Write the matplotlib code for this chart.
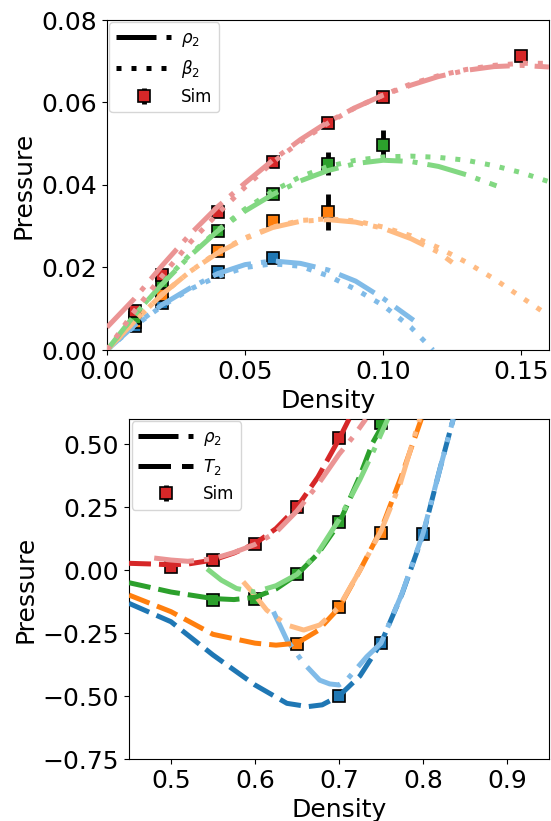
import numpy as np
import matplotlib
matplotlib.use("Agg")
import matplotlib.pyplot as plt
from matplotlib.lines import Line2D

# цвета симуляций и светлые цвета теоретических кривых
dark = ['tab:blue', 'tab:orange', 'tab:green', 'tab:red']
light = ['#80bbe8', '#ffbb82', '#82d882', '#eb9494']

# ---------- верхний график: низкая плотность ----------
sim_x_low = [
    [0.01, 0.02, 0.04, 0.06],
    [0.01, 0.02, 0.04, 0.06, 0.08],
    [0.01, 0.02, 0.04, 0.06, 0.08, 0.10],
    [0.01, 0.02, 0.04, 0.06, 0.08, 0.10, 0.15],
]
sim_p_low = [
    [0.0059, 0.0113, 0.0189, 0.0222],
    [0.0069, 0.0133, 0.0239, 0.0313, 0.0335],
    [0.0078, 0.0165, 0.0288, 0.0379, 0.0452, 0.0498],
    [0.0095, 0.0183, 0.0335, 0.0456, 0.0550, 0.0614, 0.0713],
]
sim_err_low = [
    [0.0003, 0.0004, 0.0005, 0.0006],
    [0.0003, 0.0004, 0.0006, 0.0013, 0.0043],
    [0.0003, 0.0004, 0.0006, 0.0008, 0.0027, 0.0036],
    [0.0003, 0.0004, 0.0005, 0.0006, 0.0006, 0.0007, 0.0008],
]

rho_x_low = [
    [0, 0.01, 0.02, 0.03, 0.04, 0.05, 0.06, 0.07, 0.08, 0.09, 0.10, 0.111],
    [0, 0.01, 0.02, 0.03, 0.04, 0.05, 0.06, 0.07, 0.08, 0.09, 0.10, 0.11, 0.12, 0.125],
    [0, 0.01, 0.02, 0.03, 0.04, 0.05, 0.06, 0.07, 0.08, 0.09, 0.10, 0.11, 0.12, 0.13, 0.141],
    [0, 0.01, 0.02, 0.03, 0.04, 0.05, 0.06, 0.07, 0.08, 0.09, 0.10, 0.11, 0.12, 0.13, 0.14, 0.15, 0.16],
]
rho_p_low = [
    [0, 0.006, 0.011, 0.015, 0.0185, 0.0207, 0.0216, 0.021, 0.0194, 0.0167, 0.0125, 0.0072],
    [0, 0.007, 0.0135, 0.019, 0.0235, 0.027, 0.0297, 0.0312, 0.0316, 0.031, 0.0295, 0.027, 0.0237, 0.0212],
    [0, 0.0085, 0.016, 0.0228, 0.0288, 0.0337, 0.0377, 0.041, 0.0435, 0.0452, 0.046, 0.0457, 0.0445, 0.0425, 0.0398],
    [0.0055, 0.0125, 0.0205, 0.028, 0.0347, 0.0405, 0.046, 0.051, 0.0553, 0.0588, 0.0618, 0.0642, 0.0663, 0.0678, 0.0687, 0.069, 0.0686],
]

beta_x_low = [
    [0, 0.01, 0.02, 0.03, 0.04, 0.05, 0.06, 0.07, 0.08, 0.09, 0.10, 0.11, 0.118],
    [0, 0.01, 0.02, 0.03, 0.04, 0.05, 0.06, 0.07, 0.08, 0.09, 0.10, 0.11, 0.12, 0.13, 0.14, 0.15, 0.16],
    [0, 0.01, 0.02, 0.03, 0.04, 0.05, 0.06, 0.07, 0.08, 0.09, 0.10, 0.11, 0.12, 0.13, 0.14, 0.15, 0.16],
    [0, 0.01, 0.02, 0.03, 0.04, 0.05, 0.06, 0.07, 0.08, 0.09, 0.10, 0.11, 0.12, 0.13, 0.14, 0.15, 0.16],
]
beta_p_low = [
    [0, 0.0058, 0.0107, 0.0147, 0.0178, 0.0200, 0.0209, 0.0203, 0.0180, 0.0147, 0.0108, 0.0055, 0.0],
    [0, 0.007, 0.0135, 0.019, 0.0237, 0.0272, 0.0298, 0.0314, 0.0318, 0.0313, 0.0298, 0.0277, 0.0248, 0.0213, 0.0173, 0.0128, 0.0083],
    [0, 0.0085, 0.0162, 0.0231, 0.029, 0.0342, 0.0385, 0.042, 0.0445, 0.046, 0.0468, 0.047, 0.0467, 0.046, 0.0447, 0.043, 0.0408],
    [0, 0.0095, 0.018, 0.026, 0.033, 0.0395, 0.0455, 0.0505, 0.055, 0.0588, 0.0618, 0.0645, 0.0665, 0.068, 0.069, 0.0695, 0.0695],
]

# ---------- нижний график: высокая плотность ----------
sim_x_high = [
    [0.70, 0.75, 0.80],
    [0.65, 0.70, 0.75],
    [0.55, 0.60, 0.65, 0.70, 0.75],
    [0.50, 0.55, 0.60, 0.65, 0.70],
]
sim_p_high = [
    [-0.500, -0.288, 0.143],
    [-0.294, -0.146, 0.148],
    [-0.119, -0.116, -0.017, 0.192, 0.585],
    [0.013, 0.040, 0.102, 0.251, 0.525],
]
sim_err_high = [
    [0.004, 0.005, 0.006],
    [0.004, 0.005, 0.006],
    [0.004, 0.004, 0.005, 0.005, 0.006],
    [0.010, 0.016, 0.005, 0.005, 0.006],
]

T_x_high = [
    [0.45, 0.5, 0.55, 0.6, 0.638, 0.663, 0.68, 0.7, 0.725, 0.75, 0.775, 0.8, 0.81, 0.82, 0.836],
    [0.45, 0.5, 0.55, 0.6, 0.625, 0.65, 0.675, 0.7, 0.725, 0.75, 0.775, 0.798],
    [0.45, 0.5, 0.55, 0.575, 0.6, 0.625, 0.65, 0.675, 0.7, 0.725, 0.74, 0.756],
    [0.45, 0.48, 0.5, 0.52, 0.55, 0.575, 0.6, 0.625, 0.65, 0.675, 0.7, 0.712],
]
T_p_high = [
    [-0.132, -0.205, -0.337, -0.456, -0.529, -0.542, -0.535, -0.5, -0.42, -0.29, -0.095, 0.14, 0.27, 0.40, 0.6],
    [-0.099, -0.165, -0.255, -0.29, -0.298, -0.29, -0.24, -0.15, 0.0, 0.16, 0.38, 0.6],
    [-0.05, -0.087, -0.113, -0.117, -0.108, -0.075, -0.018, 0.065, 0.185, 0.375, 0.505, 0.6],
    [0.027, 0.024, 0.021, 0.024, 0.04, 0.068, 0.105, 0.165, 0.25, 0.37, 0.52, 0.6],
]

rho_x_high = [
    [0.622, 0.638, 0.658, 0.677, 0.689, 0.7, 0.709, 0.733, 0.75, 0.775, 0.8, 0.82, 0.836],
    [0.586, 0.6, 0.614, 0.638, 0.658, 0.677, 0.7, 0.725, 0.75, 0.773, 0.796],
    [0.543, 0.56, 0.578, 0.6, 0.625, 0.65, 0.675, 0.7, 0.725, 0.742, 0.758],
    [0.48, 0.5, 0.52, 0.55, 0.575, 0.6, 0.625, 0.65, 0.675, 0.7, 0.717, 0.732],
]
rho_p_high = [
    [-0.165, -0.278, -0.37, -0.437, -0.452, -0.456, -0.437, -0.344, -0.29, -0.093, 0.145, 0.40, 0.6],
    [-0.046, -0.1, -0.159, -0.218, -0.238, -0.218, -0.146, 0.0, 0.155, 0.344, 0.6],
    [0.005, -0.04, -0.073, -0.087, -0.062, -0.017, 0.07, 0.2, 0.36, 0.48, 0.6],
    [0.048, 0.04, 0.035, 0.045, 0.07, 0.102, 0.15, 0.235, 0.34, 0.46, 0.53, 0.6],
]

# стили линий (в единицах толщины линии)
ls_rho = (0, (8, 2, 1, 2))
ls_beta = (0, (1, 2))
ls_T = (0, (4.4, 1.6))
lw = 3.6

plt.rcParams['font.size'] = 18

fig = plt.figure(figsize=(5.51, 8.21), dpi=100)
ax1 = fig.add_axes([107 / 551, 1 - 350 / 821, 442 / 551, 330 / 821])
ax2 = fig.add_axes([129 / 551, 1 - 759 / 821, 420 / 551, 340 / 821])


def draw_sim(ax, xs, ps, errs):
    for i in range(4):
        ax.errorbar(xs[i], ps[i], yerr=errs[i], fmt='s', color=dark[i],
                    ecolor='black', elinewidth=3.5, capsize=0,
                    markersize=9, markeredgecolor='black', markeredgewidth=1.2,
                    zorder=2)


def sim_legend_handle(ax):
    return ax.errorbar([], [], yerr=[], fmt='s', color=dark[3], ecolor='black',
                       elinewidth=3.5, markersize=9, markeredgecolor='black',
                       markeredgewidth=1.2)


# --- верхняя панель ---
draw_sim(ax1, sim_x_low, sim_p_low, sim_err_low)
for i in range(4):
    ax1.plot(rho_x_low[i], rho_p_low[i], color=light[i], lw=lw, linestyle=ls_rho, zorder=3)
    ax1.plot(beta_x_low[i], beta_p_low[i], color=light[i], lw=lw, linestyle=ls_beta, zorder=3)

ax1.set_xlim(0, 0.16)
ax1.set_ylim(0, 0.08)
ax1.set_xticks([0, 0.05, 0.10, 0.15])
ax1.set_yticks([0, 0.02, 0.04, 0.06, 0.08])
ax1.set_xlabel('Density')
ax1.set_ylabel('Pressure')

handles = [Line2D([], [], color='black', lw=lw, linestyle=ls_rho),
           Line2D([], [], color='black', lw=lw, linestyle=ls_beta),
           sim_legend_handle(ax1)]
ax1.legend(handles, [r'$\rho_2$', r'$\beta_2$', 'Sim'], loc='upper left',
           fontsize=12, handlelength=3.3, handletextpad=0.6, borderaxespad=0.15)

# --- нижняя панель ---
draw_sim(ax2, sim_x_high, sim_p_high, sim_err_high)
for i in range(4):
    ax2.plot(T_x_high[i], T_p_high[i], color=dark[i], lw=lw, linestyle=ls_T, zorder=3)
    ax2.plot(rho_x_high[i], rho_p_high[i], color=light[i], lw=lw, linestyle=ls_rho, zorder=3)

ax2.set_xlim(0.45, 0.95)
ax2.set_ylim(-0.75, 0.6)
ax2.set_xticks([0.5, 0.6, 0.7, 0.8, 0.9])
ax2.set_yticks([-0.75, -0.5, -0.25, 0, 0.25, 0.5])
ax2.set_xlabel('Density')
ax2.set_ylabel('Pressure')

handles2 = [Line2D([], [], color='black', lw=lw, linestyle=ls_rho),
            Line2D([], [], color='black', lw=lw, linestyle=(0, (6.5, 2.2))),
            sim_legend_handle(ax2)]
ax2.legend(handles2, [r'$\rho_2$', r'$T_2$', 'Sim'], loc='upper left',
           fontsize=12, handlelength=3.3, handletextpad=0.6, borderaxespad=0.15)

fig.savefig('out.png', dpi=100)
